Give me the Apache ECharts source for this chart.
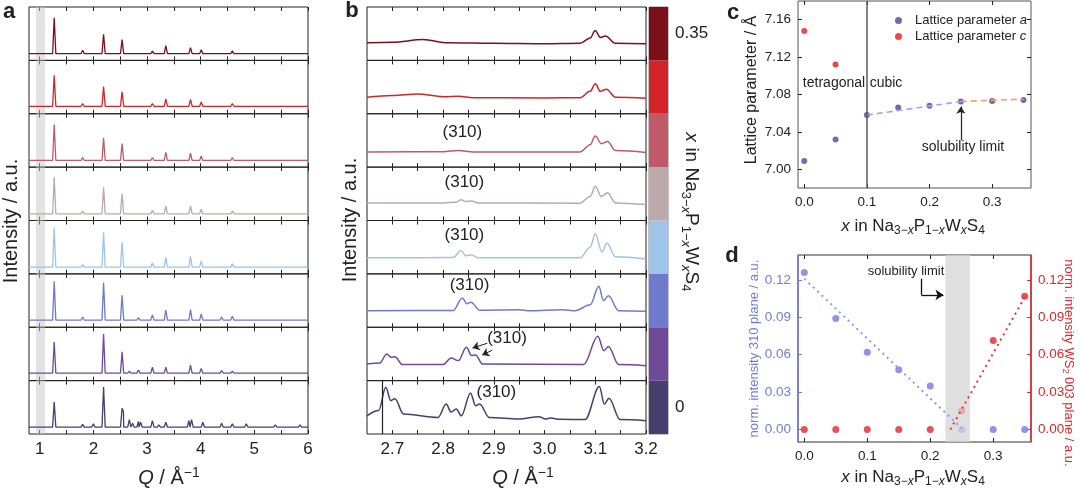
<!DOCTYPE html>
<html>
<head>
<meta charset="utf-8">
<title>Na3-xP1-xWxS4</title>
<script src="https://cdn.jsdelivr.net/npm/echarts@6.0.0/dist/echarts.min.js"></script>
<style>
html,body{margin:0;padding:0;background:#fff;}
#main{width:1080px;height:491px;}
</style>
</head>
<body>
<div id="main"></div>
<script>
// compositions, top sub-panel first
var xLevels = ['0.35', '0.30', '0.25', '0.20', '0.15', '0.10', '0.05', '0'];
var levelColors = ['#7d0f1a', '#d42428', '#c05a68', '#bcaaaa', '#9ec4ea', '#6f7acc', '#6e4a98', '#473e6e'];

// panel a: baseline (% of sub-panel) and peaks [Q, height %]
var baseA = [12.5, 14, 12.5, 12.5, 12.5, 13.5, 14, 13];
var peaksA = [
  [[1.0,16],[1.27,80],[1.80,19],[2.19,49],[2.37,15.5],[2.535,39],[2.84,14],[3.10,17.5],[3.35,27.5],[3.81,24],[4.01,20],[4.39,16],[4.59,18],[4.92,14],[5.39,14],[5.53,15.5],[5.85,13.5]],
  [[1.0,17],[1.27,72],[1.80,19],[2.19,51],[2.37,16],[2.535,41],[2.84,15.5],[3.10,19],[3.35,28],[3.81,27],[4.01,22],[4.39,17],[4.59,19],[4.92,15],[5.39,16],[5.53,16]],
  [[1.27,80],[1.80,18],[2.19,55],[2.535,44],[2.84,14],[3.10,18],[3.35,27.5],[3.81,26],[4.01,21],[4.39,14.5],[4.59,18],[4.92,13.5],[5.39,15],[5.53,15]],
  [[1.27,81],[1.80,17.5],[2.19,62],[2.535,50],[2.84,14],[3.10,19],[3.35,27.5],[3.81,27.5],[4.01,21],[4.39,16],[4.59,17.5],[4.92,14],[5.39,15],[5.53,15]],
  [[1.27,87],[1.80,17.5],[2.19,78],[2.535,59],[2.84,15],[3.10,20.5],[3.35,31],[3.81,33],[4.01,24],[4.39,16],[4.59,19],[4.92,15],[5.39,15],[5.53,15.5],[5.85,14]],
  [[1.27,86],[1.80,19],[2.19,84],[2.535,60],[2.84,18],[3.10,23],[3.35,32],[3.81,33],[4.01,25],[4.39,19],[4.59,20.5],[4.92,16],[5.39,17],[5.53,16],[5.85,15]],
  [[1.27,72.5],[1.80,17.5],[2.0,17],[2.19,87.5],[2.535,54],[2.67,18],[2.84,20],[3.10,25],[3.35,25],[3.81,29],[4.01,23],[4.39,19],[4.59,18],[4.92,16],[5.39,17],[5.53,16]],
  [[1.27,60],[1.80,18],[2.0,19],[2.19,88],[2.535,48.5],[2.56,42],[2.67,27],[2.73,20],[2.84,23.5],[2.88,22],[3.10,25],[3.22,17],[3.35,22],[3.78,25],[3.83,27],[4.04,22],[4.39,20],[4.59,19],[4.85,19],[5.39,17],[5.85,17]]
];
var qTicksA = [1, 1.5, 2, 2.5, 3, 3.5, 4, 4.5, 5, 5.5, 6];
var qLabelsA = [1, 2, 3, 4, 5, 6];

// panel b: zoomed profiles [Q, height %]
var profB = [
  [[2.65,33],[2.70,34],[2.76,39],[2.81,33],[2.9,32],[3.0,31],[3.07,32],[3.09,42],[3.10,56],[3.11,43],[3.12,45.5],[3.14,32],[3.2,31]],
  [[2.65,31],[2.70,34],[2.75,37],[2.80,32],[2.83,33],[2.86,30],[3.0,29.5],[3.07,30],[3.09,42],[3.10,56],[3.11,42],[3.122,46],[3.14,31],[3.2,29]],
  [[2.65,28.5],[2.80,29],[2.83,31],[2.86,28.5],[3.07,28.5],[3.09,42],[3.10,58.5],[3.112,44],[3.124,48],[3.14,31],[3.2,27.5]],
  [[2.65,33],[2.80,33],[2.825,34],[2.835,39],[2.845,35.5],[2.855,36.5],[2.87,33],[3.07,32.5],[3.09,45],[3.10,64],[3.112,45],[3.124,52],[3.14,33],[3.2,30]],
  [[2.65,30],[2.82,30.5],[2.835,44],[2.845,34],[2.855,36],[2.87,30],[3.07,30],[3.09,50],[3.10,75],[3.113,41],[3.123,57.5],[3.14,32],[3.2,28]],
  [[2.65,31],[2.82,31.5],[2.838,55],[2.847,44],[2.855,47],[2.872,32],[2.95,33],[2.97,31],[3.035,33],[3.06,31],[3.09,42],[3.107,77],[3.116,50],[3.126,59],[3.146,31],[3.2,30]],
  [[2.65,31],[2.675,33],[2.689,50],[2.697,44],[2.705,44.5],[2.72,30],[2.80,30],[2.816,42.5],[2.83,37.5],[2.846,62.5],[2.856,47],[2.864,48],[2.878,31],[3.077,30],[3.105,83],[3.117,56],[3.126,64],[3.146,30],[3.2,28]],
  [[2.65,34],[2.673,44],[2.687,87.5],[2.697,62.5],[2.705,66],[2.722,37.5],[2.79,31],[2.806,56],[2.816,41],[2.826,47],[2.836,34],[2.854,77],[2.864,53],[2.872,56],[2.891,31],[2.95,28],[2.989,32.5],[3.002,28],[3.012,30],[3.03,27.5],[3.08,27],[3.108,89],[3.118,56],[3.127,67],[3.149,27],[3.2,25]]
];
var qTicksB = [2.7, 2.75, 2.8, 2.85, 2.9, 2.95, 3.0, 3.05, 3.1, 3.15, 3.2];
var qLabelsB = [2.7, 2.8, 2.9, 3.0, 3.1, 3.2];
var label310 = [null, null, [2.838, 66], [2.842, 71], [2.842, 72], [2.852, 79], [2.926, 79], [2.905, 79]];

// panel c: lattice parameters
var xComp = [0, 0.05, 0.1, 0.15, 0.2, 0.25, 0.3, 0.35];
var latA = [7.009, 7.032, 7.058, 7.066, 7.068, 7.0725, 7.073, 7.074];
var xTet = [0, 0.05];
var latC = [7.148, 7.112];
var fitCubic = [[0.1, 7.058], [0.25, 7.0725]];
var fitSat = [[0.25, 7.0725], [0.35, 7.075]];
var latTicks = [7.00, 7.04, 7.08, 7.12, 7.16];

// panel d: normalised intensities
var i310 = [0.126, 0.089, 0.062, 0.048, 0.035, 0, 0, 0];
var iWS2 = [0, 0, 0, 0, 0, 0.015, 0.0714, 0.107];
var fit310 = [[0, 0.121], [0.25, 0.001]];
var fitWS2 = [[0.232, 0], [0.352, 0.108]];
var intTicks = [0, 0.03, 0.06, 0.09, 0.12];
var xCompTicks = [0, 0.1, 0.2, 0.3];

var FONT = 'Arial, "Liberation Sans", Helvetica, sans-serif';
var INK = '#222';
var BLUE_D = '#6f7be0', RED_D = '#e2262a';

var chart = echarts.init(document.getElementById('main'));
var grids = [], xAxes = [], yAxes = [], series = [], graphics = [];

function frameGrid(left, top, width, height, border) {
  grids.push({ left: left, top: top, width: width, height: height, show: true,
    borderColor: border || INK, borderWidth: 1, backgroundColor: 'transparent',
    containLabel: false, outerBoundsMode: 'none' });
  return grids.length - 1;
}

function valAxis(gi, pos, min, max, ticks, labels, showLabel, fmt, size, color) {
  return { type: 'value', gridIndex: gi, position: pos, min: min, max: max,
    axisLine: { show: false, onZero: false }, splitLine: { show: false },
    axisTick: { show: true, inside: true, length: 4, customValues: ticks, lineStyle: { color: INK, width: 1 } },
    axisLabel: { show: showLabel, customValues: labels, formatter: fmt, fontSize: size || 17,
      color: color || INK, fontFamily: FONT, margin: 7 } };
}

// triangle peaks on a flat baseline
function peakLine(base, peaks, lo, hi, hw) {
  var pts = [[lo, base], [hi, base]];
  peaks.forEach(function (p) {
    pts.push([p[0] - hw, base], [p[0], p[1]], [p[0] + hw, base]);
  });
  pts.sort(function (a, b) { return a[0] - b[0]; });
  return pts;
}

function richSet(size, color) {
  var sub = Math.round(size * 0.68), off = Math.round(size * 0.5);
  return {
    n: { fontSize: size, fill: color, color: color, fontFamily: FONT },
    i: { fontSize: size, fill: color, color: color, fontFamily: FONT, fontStyle: 'italic' },
    s: { fontSize: sub, fill: color, color: color, fontFamily: FONT, padding: [off, 0, 0, 0] },
    si: { fontSize: sub, fill: color, color: color, fontFamily: FONT, fontStyle: 'italic', padding: [off, 0, 0, 0] },
    p: { fontSize: sub, fill: color, color: color, fontFamily: FONT, padding: [0, 0, off, 0] }
  };
}

var subH = 427 / 8;

// ---------------- panel a ----------------
for (var i = 0; i < 8; i++) {
  var g = frameGrid(29, 7 + i * subH, 279, subH);
  xAxes.push(valAxis(g, 'bottom', 0.8, 6, qTicksA, qLabelsA, i === 7, function (v) { return String(v); }));
  xAxes.push(valAxis(g, 'top', 0.8, 6, qTicksA, qLabelsA, false));
  yAxes.push({ type: 'value', gridIndex: g, min: 0, max: 100, show: false });
  series.push({ type: 'line', xAxisIndex: xAxes.length - 2, yAxisIndex: yAxes.length - 1,
    data: peakLine(baseA[i], peaksA[i], 0.8, 6, 0.03), symbol: 'none',
    lineStyle: { color: levelColors[i], width: 1.3 },
    markArea: { silent: true, itemStyle: { color: 'rgba(200,200,200,0.5)' },
      data: [[{ xAxis: 0.93 }, { xAxis: 1.1 }]] } });
}

// ---------------- panel b ----------------
for (var j = 0; j < 8; j++) {
  var gb = frameGrid(367, 7 + j * subH, 279, subH);
  xAxes.push(valAxis(gb, 'bottom', 2.65, 3.2, qTicksB, qLabelsB, j === 7, function (v) { return v.toFixed(1); }));
  xAxes.push(valAxis(gb, 'top', 2.65, 3.2, qTicksB, qLabelsB, false));
  yAxes.push({ type: 'value', gridIndex: gb, min: 0, max: 100, show: false });
  var s = { type: 'line', xAxisIndex: xAxes.length - 2, yAxisIndex: yAxes.length - 1,
    data: profB[j], symbol: 'none', smooth: 0.35, smoothMonotone: 'x',
    lineStyle: { color: levelColors[j], width: 1.5 } };
  if (label310[j]) {
    s.markPoint = { silent: true, symbol: 'circle', symbolSize: 1, itemStyle: { color: 'transparent' },
      label: { show: true, position: 'inside', formatter: '(310)', fontSize: 17, color: INK, fontFamily: FONT },
      data: [{ coord: label310[j] }] };
  }
  if (j === 6) {
    s.markLine = { silent: true, symbolSize: 7, lineStyle: { color: INK, width: 1, type: 'solid' }, label: { show: false },
      data: [
        [{ coord: [2.887, 70], symbol: 'none' }, { coord: [2.858, 61], symbol: 'arrow' }],
        [{ coord: [2.897, 57], symbol: 'none' }, { coord: [2.877, 48], symbol: 'arrow' }]
      ] };
  }
  if (j === 7) {
    s.markLine = { silent: true, symbol: 'none', lineStyle: { color: INK, width: 1.2, type: 'solid' }, label: { show: false },
      data: [{ xAxis: 2.676 }] };
  }
  series.push(s);
}

// ---------------- colour bar ----------------
var gc = frameGrid(649, 7, 19, 427, '#888');
xAxes.push({ type: 'category', gridIndex: gc, data: ['x'], show: false });
yAxes.push({ type: 'value', gridIndex: gc, min: 0, max: 8, position: 'right',
  axisLine: { show: false }, axisTick: { show: false }, splitLine: { show: false },
  axisLabel: { customValues: [0.5, 7.5], formatter: function (v) { return v < 4 ? xLevels[7] : xLevels[0]; },
    fontSize: 17, color: INK, fontFamily: FONT, margin: 7 } });
for (var k = 7; k >= 0; k--) {
  series.push({ type: 'bar', xAxisIndex: xAxes.length - 1, yAxisIndex: yAxes.length - 1,
    stack: 'cb', barWidth: '100%', data: [1], itemStyle: { color: levelColors[k] }, silent: true });
}

// ---------------- panel c ----------------
var g3 = frameGrid(798, 1, 233, 187, '#555');
xAxes.push(valAxis(g3, 'bottom', -0.01, 0.362, xCompTicks, xCompTicks, true, function (v) { return v.toFixed(1); }, 13.5));
xAxes.push(valAxis(g3, 'top', -0.01, 0.362, xCompTicks, xCompTicks, false));
yAxes.push(valAxis(g3, 'left', 6.98, 7.18, latTicks, latTicks, true, function (v) { return v.toFixed(2); }, 13.5));
yAxes.push(valAxis(g3, 'right', 6.98, 7.18, latTicks, latTicks, false));
var cx = xAxes.length - 2, cy = yAxes.length - 2;
series.push({ type: 'line', xAxisIndex: cx, yAxisIndex: cy, data: fitCubic, symbol: 'none', silent: true,
  lineStyle: { color: '#9aa6f2', width: 1.6, type: [6, 4] } });
series.push({ type: 'line', xAxisIndex: cx, yAxisIndex: cy, data: fitSat, symbol: 'none', silent: true,
  lineStyle: { color: '#f3a165', width: 1.6, type: [6, 4] } });
series.push({ name: 'Lattice parameter a', type: 'scatter', xAxisIndex: cx, yAxisIndex: cy,
  data: xComp.map(function (x, n) { return [x, latA[n]]; }), symbolSize: 6,
  itemStyle: { color: '#5b3e9e' },
  markLine: { silent: true, label: { show: false }, symbolSize: 7,
    data: [
      [{ xAxis: 0.1, yAxis: 6.98, symbol: 'none', lineStyle: { color: '#5a5a5a', width: 1.5, type: 'solid' } },
       { xAxis: 0.1, yAxis: 7.18, symbol: 'none' }],
      [{ coord: [0.25, 7.031], symbol: 'none', lineStyle: { color: INK, width: 1.2, type: 'solid' } },
       { coord: [0.25, 7.067], symbol: 'arrow' }]
    ] } });
series.push({ name: 'Lattice parameter c', type: 'scatter', xAxisIndex: cx, yAxisIndex: cy,
  data: xTet.map(function (x, n) { return [x, latC[n]]; }), symbolSize: 6,
  itemStyle: { color: '#e8191c' } });

// ---------------- panel d ----------------
var g4 = frameGrid(798, 255, 233, 187, '#333');
xAxes.push(valAxis(g4, 'bottom', -0.01, 0.36, xCompTicks, xCompTicks, true, function (v) { return v.toFixed(1); }, 13.5));
xAxes.push(valAxis(g4, 'top', -0.01, 0.36, xCompTicks, xCompTicks, false));
var yl = valAxis(g4, 'left', -0.01, 0.14, intTicks, intTicks, true, function (v) { return v.toFixed(2); }, 13.5, BLUE_D);
yl.axisLine = { show: true, onZero: false, lineStyle: { color: BLUE_D, width: 1.5 } };
yl.axisTick.lineStyle.color = BLUE_D;
yl.name = '{n|norm. intensity 310 plane / a.u.}';
yl.nameLocation = 'middle'; yl.nameRotate = 90; yl.nameGap = 31;
yl.nameTextStyle = { fontSize: 13, color: BLUE_D, fontFamily: FONT, rich: richSet(13, BLUE_D) };
var yr = valAxis(g4, 'right', -0.01, 0.14, intTicks, intTicks, true, function (v) { return v.toFixed(2); }, 13.5, RED_D);
yr.axisLine = { show: true, onZero: false, lineStyle: { color: RED_D, width: 1.5 } };
yr.axisTick.lineStyle.color = RED_D;
yAxes.push(yl, yr);
var dx = xAxes.length - 2, dyl = yAxes.length - 2, dyr = yAxes.length - 1;
series.push({ type: 'line', xAxisIndex: dx, yAxisIndex: dyl, data: fit310, symbol: 'none', silent: true,
  lineStyle: { color: '#8f99ec', width: 2, type: [2, 4] } });
series.push({ type: 'line', xAxisIndex: dx, yAxisIndex: dyr, data: fitWS2, symbol: 'none', silent: true,
  lineStyle: { color: '#e8353a', width: 2, type: [2, 4] } });
series.push({ type: 'scatter', xAxisIndex: dx, yAxisIndex: dyl, z: 0,
  data: xComp.map(function (x, n) { return [x, i310[n]]; }), symbolSize: 7, itemStyle: { color: BLUE_D },
  markArea: { silent: true, itemStyle: { color: 'rgba(212,212,212,0.75)' },
    data: [[{ xAxis: 0.224 }, { xAxis: 0.263 }]] },
  markLine: { silent: true, label: { show: false }, symbolSize: 8,
    lineStyle: { color: '#111', width: 1.3, type: 'solid' },
    data: [
      [{ coord: [0.186, 0.121], symbol: 'none' }, { coord: [0.186, 0.108], symbol: 'none' }],
      [{ coord: [0.186, 0.108], symbol: 'none' }, { coord: [0.221, 0.108], symbol: 'arrow' }]
    ] } });
series.push({ type: 'scatter', xAxisIndex: dx, yAxisIndex: dyr, z: 0,
  data: xComp.map(function (x, n) { return [x, iWS2[n]]; }), symbolSize: 7, itemStyle: { color: RED_D } });

// ---------------- texts ----------------
function txt(x, y, text, size, opt) {
  opt = opt || {};
  var color = opt.color || INK;
  graphics.push({ type: 'text', x: x, y: y, rotation: opt.rot || 0, z: 100, silent: true,
    style: { text: text, fontSize: size, fontFamily: FONT, fontWeight: opt.bold ? 'bold' : 'normal',
      fill: color, align: 'center', verticalAlign: 'middle', rich: richSet(size, color) } });
}
var formula = '{i|x}{n| in Na}{s|3−}{si|x}{n|P}{s|1−}{si|x}{n|W}{si|x}{n|S}{s|4}';
var qTitle = '{i|Q}{n| / Å}{p|−1}';

txt(9, 12, 'a', 22, { bold: true });
txt(352, 11, 'b', 22, { bold: true });
txt(733, 13, 'c', 22, { bold: true });
txt(732, 256, 'd', 22, { bold: true });

txt(11, 221, 'Intensity / a.u.', 20, { rot: Math.PI / 2 });
txt(350, 220, 'Intensity / a.u.', 20, { rot: Math.PI / 2 });
txt(169, 478, qTitle, 20);
txt(523, 478, qTitle, 20);
txt(691, 212, formula, 19, { rot: -Math.PI / 2 });

txt(752, 90, '{n|Lattice parameter / Å}', 16, { rot: Math.PI / 2 });
txt(913, 226, formula, 17);
txt(834, 83, 'tetragonal', 14);
txt(886, 83, 'cubic', 14);
txt(963, 147, 'solubility limit', 14);

txt(1069, 363, '{n|norm. intensity WS}{s|2}{n| 003 plane / a.u.}', 13, { rot: -Math.PI / 2, color: RED_D });
txt(913, 477, formula, 17);
txt(906, 271, 'solubility limit', 13);

chart.setOption({
  animation: false,
  backgroundColor: '#fff',
  textStyle: { fontFamily: FONT },
  grid: grids,
  xAxis: xAxes,
  yAxis: yAxes,
  legend: {
    data: ['Lattice parameter a', 'Lattice parameter c'],
    orient: 'vertical', left: 890, top: 9, itemGap: 3,
    icon: 'circle', itemWidth: 7, itemHeight: 7,
    formatter: function (name) { return 'Lattice parameter {i|' + name.slice(-1) + '}'; },
    textStyle: { fontSize: 13, color: INK, fontFamily: FONT, padding: [0, 0, 0, 8],
      rich: { i: { fontStyle: 'italic', fontSize: 13, color: INK, fontFamily: FONT } } }
  },
  series: series,
  graphic: graphics
});
</script>
</body>
</html>
